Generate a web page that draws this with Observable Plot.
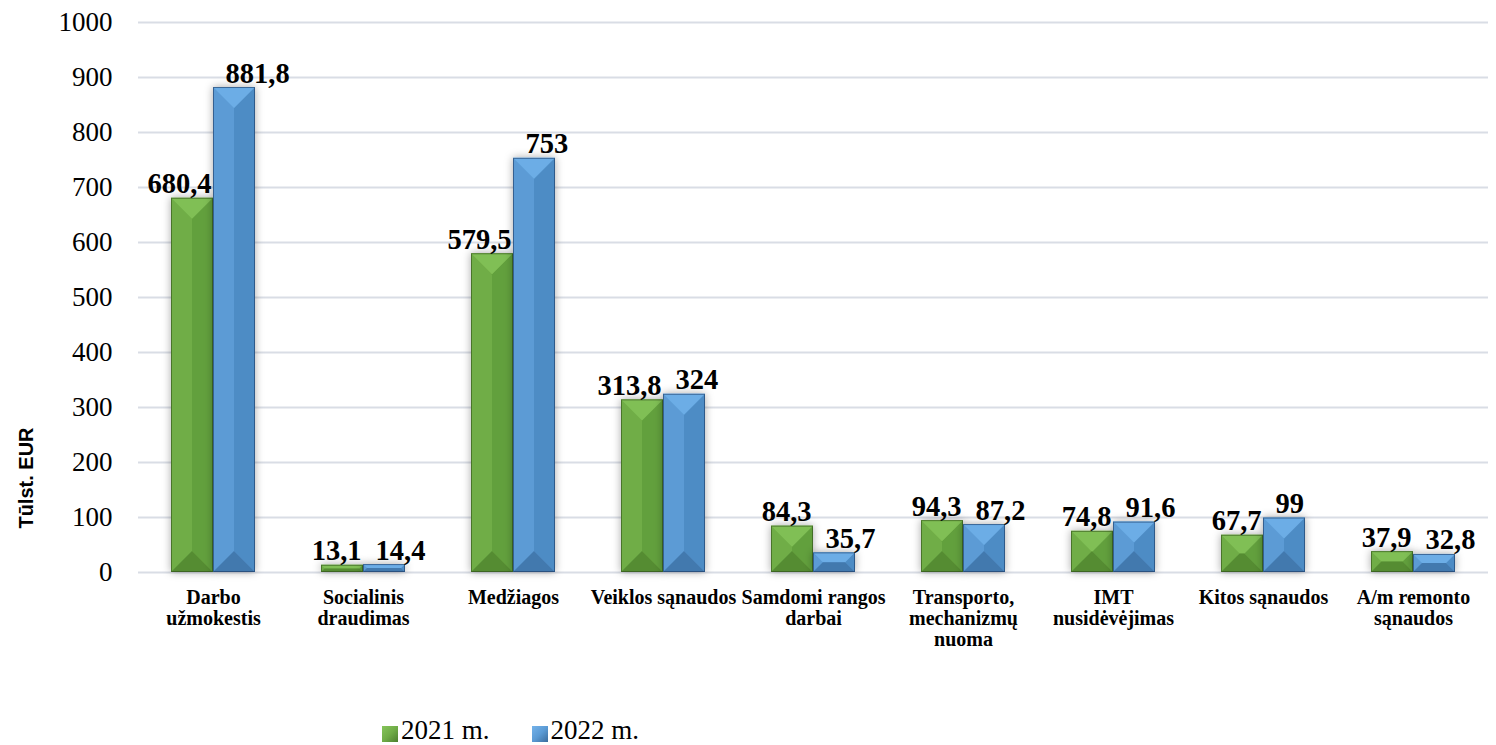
<!DOCTYPE html>
<html>
<head>
<meta charset="utf-8">
<script src="https://cdn.jsdelivr.net/npm/d3@7"></script>
<script src="https://cdn.jsdelivr.net/npm/@observablehq/plot@0.6"></script>
<style>
  html, body { margin: 0; padding: 0; background: #fff; }
  #wrap { position: relative; width: 1496px; height: 745px; overflow: hidden; }
  #ytitle { position: absolute; left: 26px; top: 478px; transform: translate(-50%, -50%) rotate(-90deg);
    font-family: "Liberation Sans", Arial, sans-serif; font-weight: bold; font-size: 20px; white-space: nowrap; color: #000; }
  #legend { position: absolute; left: 382px; top: 715px; display: flex; align-items: center;
    font-family: "Liberation Serif", serif; font-size: 27px; color: #000; }
  .item { display: flex; align-items: center; margin-right: 42px; }
  .sw { width: 16px; height: 16px; margin-right: 3px; position: relative; top: 3px; }
</style>
</head>
<body>
<div id="wrap">
  <div id="chart"></div>
  <div id="ytitle">Tūlst. EUR</div>
  <div id="legend"></div>
</div>
<script>
const categories = ["Darbo užmokestis", "Socialinis draudimas", "Medžiagos", "Veiklos sąnaudos", "Samdomi rangos darbai", "Transporto, mechanizmų nuoma", "IMT nusidėvėjimas", "Kitos sąnaudos", "A/m remonto sąnaudos"];
const tickLabels = ["Darbo\nužmokestis", "Socialinis\ndraudimas", "Medžiagos", "Veiklos sąnaudos", "Samdomi rangos\ndarbai", "Transporto,\nmechanizmų\nnuoma", "IMT\nnusidėvėjimas", "Kitos sąnaudos", "A/m remonto\nsąnaudos"];
const values2021 = [680.4, 13.1, 579.5, 313.8, 84.3, 94.3, 74.8, 67.7, 37.9];
const values2022 = [881.8, 14.4, 753, 324, 35.7, 87.2, 91.6, 99, 32.8];
const years = ["2021 m.", "2022 m."];
const yTicks = [0, 100, 200, 300, 400, 500, 600, 700, 800, 900, 1000];

const GREEN = "#70ad47", BLUE = "#5b9bd5";
const bevel = [
  {top: "#80bf55", left: "#6fad46", right: "#62a03c", bottom: "#548c33", edge: "rgba(40,70,20,0.55)"},
  {top: "#6cade6", left: "#5b9bd5", right: "#4e8cc5", bottom: "#4379ae", edge: "rgba(20,50,90,0.55)"}
];

const rows2021 = categories.map((c, i) => ({cat: c, value: values2021[i]}));
const rows2022 = categories.map((c, i) => ({cat: c, value: values2022[i]}));
const fmt = v => String(v).replace(".", ",");

const chart = Plot.plot({
  width: 1496,
  height: 700,
  marginLeft: 138,
  marginRight: 8,
  marginTop: 22,
  marginBottom: 128,
  style: {fontFamily: "'Liberation Serif', serif", fontSize: "27px", color: "#000", background: "#fff"},
  x: {domain: categories, padding: 0, axis: null},
  y: {domain: [0, 1000], ticks: yTicks, tickFormat: d => String(d), tickSize: 0, tickPadding: 26, label: null},
  marks: [
    Plot.ruleY(yTicks, {stroke: "#d9dde5", strokeWidth: 2}),
    Plot.barY(rows2021, {x: "cat", y: "value", fill: GREEN, insetLeft: 33, insetRight: 75}),
    Plot.barY(rows2022, {x: "cat", y: "value", fill: BLUE, insetLeft: 75, insetRight: 33}),
    Plot.text(rows2021, {x: "cat", y: "value", text: d => fmt(d.value), textAnchor: "end", lineAnchor: "bottom",
      dx: -2, dy: -5, fontSize: 28.5, fontWeight: "bold", fill: "#000"}),
    Plot.text(rows2022, {x: "cat", y: "value", text: d => fmt(d.value), textAnchor: "start", lineAnchor: "bottom",
      dx: 12, dy: -5, fontSize: 28.5, fontWeight: "bold", fill: "#000"}),
    Plot.text(categories, {x: d => d, text: (d, i) => tickLabels[i], frameAnchor: "bottom", lineAnchor: "top",
      dy: 17, fontSize: 20, fontWeight: "bold", lineHeight: 1.05, fill: "#000"})
  ]
});
document.getElementById("chart").appendChild(chart);

// decorative bevel + shadow derived from the rendered bars
const svg = d3.select(chart.tagName.toLowerCase() === "svg" ? chart : chart.querySelector("svg"));
const defs = svg.insert("defs", ":first-child");
const f = defs.append("filter").attr("id", "barShadow").attr("x", "-50%").attr("y", "-10%").attr("width", "200%").attr("height", "120%");
f.append("feDropShadow").attr("dx", 0).attr("dy", 0).attr("stdDeviation", 4).attr("flood-color", "#000").attr("flood-opacity", 0.35);

svg.selectAll("g[aria-label='bar']").each(function(_, gi) {
  const p = bevel[gi] || bevel[0];
  const g = d3.select(this);
  g.attr("filter", "url(#barShadow)");
  g.selectAll("rect").each(function() {
    const x = +this.getAttribute("x"), y = +this.getAttribute("y");
    const w = +this.getAttribute("width"), h = +this.getAttribute("height");
    const b = Math.min(w / 2, h / 2);
    const pts = a => a.map(q => q.join(",")).join(" ");
    const parts = [
      [p.left, [[x, y], [x + b, y + b], [x + b, y + h - b], [x, y + h]]],
      [p.right, [[x + w, y], [x + w - b, y + b], [x + w - b, y + h - b], [x + w, y + h]]],
      [p.top, [[x, y], [x + w, y], [x + w - b, y + b], [x + b, y + b]]],
      [p.bottom, [[x, y + h], [x + w, y + h], [x + w - b, y + h - b], [x + b, y + h - b]]]
    ];
    for (const [c, a] of parts) g.append("polygon").attr("points", pts(a)).attr("fill", c);
    g.append("rect").attr("x", x + 0.5).attr("y", y + 0.5).attr("width", Math.max(0, w - 1)).attr("height", Math.max(0, h - 1))
      .attr("fill", "none").attr("stroke", p.edge).attr("stroke-width", 1);
  });
});

// legend
const legend = document.getElementById("legend");
[[years[0], "linear-gradient(135deg, #86c45a 0%, #70ad47 50%, #4c7f2e 100%)"],
 [years[1], "linear-gradient(135deg, #74b3ea 0%, #5b9bd5 50%, #3b6c9c 100%)"]].forEach(([label, bg]) => {
  const it = document.createElement("div"); it.className = "item";
  const sw = document.createElement("div"); sw.className = "sw"; sw.style.background = bg;
  const t = document.createElement("span"); t.textContent = label;
  it.appendChild(sw); it.appendChild(t); legend.appendChild(it);
});
</script>
</body>
</html>
